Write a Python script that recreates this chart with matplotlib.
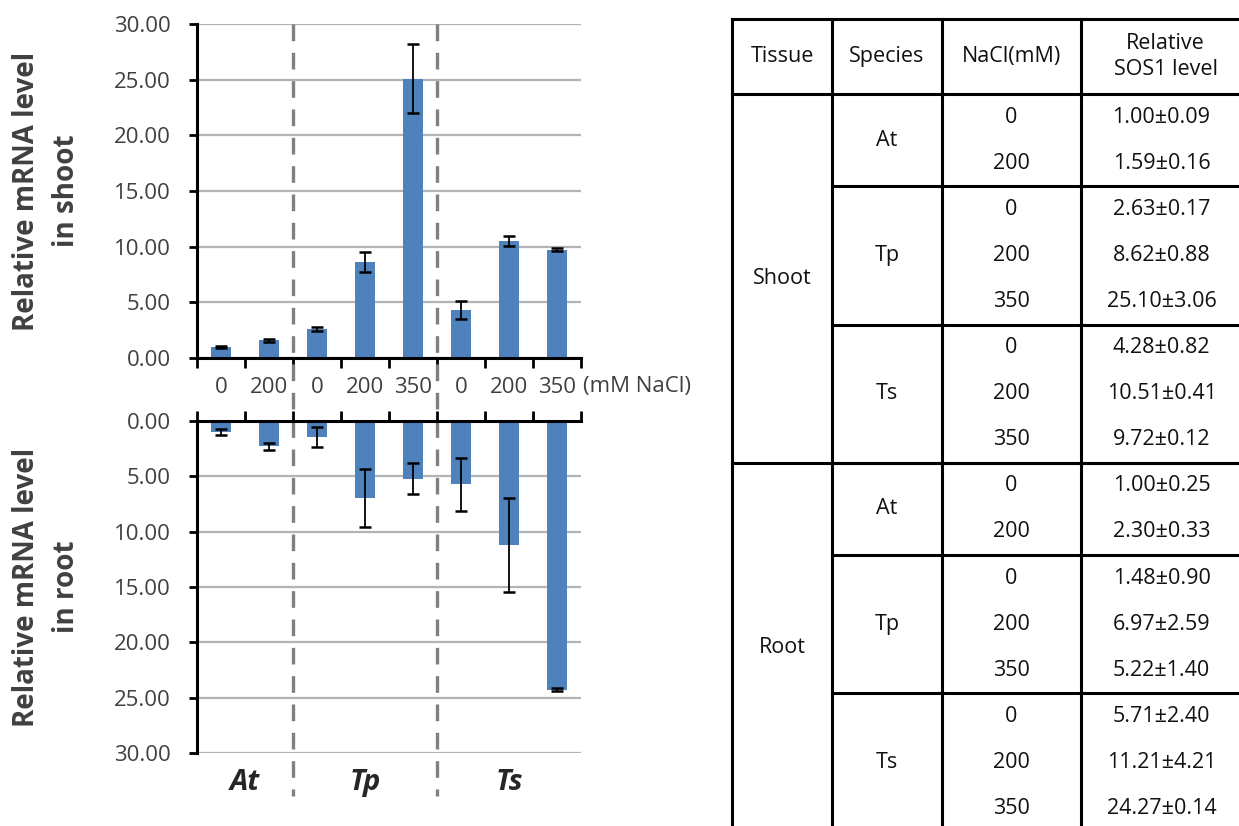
import numpy as np
import matplotlib
matplotlib.use('Agg')
import matplotlib.pyplot as plt
import matplotlib.ticker as mticker

plt.rcParams['font.family'] = ['Open Sans', 'DejaVu Sans']

# ------------------------------------------------------------------
# data
# ------------------------------------------------------------------
species = ['At', 'Tp', 'Ts']
nacl = {'At': ['0', '200'], 'Tp': ['0', '200', '350'], 'Ts': ['0', '200', '350']}
tick_labels = ['0', '200', '0', '200', '350', '0', '200', '350']

shoot_mean = [1.00, 1.59, 2.63, 8.62, 25.10, 4.28, 10.51, 9.72]
shoot_sd = [0.09, 0.16, 0.17, 0.88, 3.06, 0.82, 0.41, 0.12]
root_mean = [1.00, 2.30, 1.48, 6.97, 5.22, 5.71, 11.21, 24.27]
root_sd = [0.25, 0.33, 0.90, 2.59, 1.40, 2.40, 4.21, 0.14]

tissues = ['Shoot', 'Root']
header = ['Tissue', 'Species', 'NaCl(mM)', 'Relative\nSOS1 level']

BLUE = '#4F81BD'
GRID = '#b3b3b3'
TXT = '#404040'

W, H = 1239, 826
fig = plt.figure(figsize=(W / 100, H / 100), dpi=100)


def px_axes(l, t, r, b):
    return fig.add_axes([l / W, 1 - b / H, (r - l) / W, (b - t) / H])


x = np.arange(len(shoot_mean)) + 0.5
edges = np.arange(len(shoot_mean) + 1)

# --- shoot panel ---------------------------------------------------
ax1 = px_axes(197, 24, 581, 358)
ax1.bar(x, shoot_mean, width=0.42, color=BLUE, zorder=2)
ax1.errorbar(x, shoot_mean, yerr=shoot_sd, fmt='none', ecolor='black',
             elinewidth=1.3, capsize=4, capthick=1.8, zorder=3)
ax1.set_xlim(0, 8)
ax1.set_ylim(0, 30)

# --- root panel (inverted) -----------------------------------------
ax2 = px_axes(197, 421, 581, 753)
ax2.bar(x, root_mean, width=0.42, color=BLUE, zorder=2)
ax2.errorbar(x, root_mean, yerr=root_sd, fmt='none', ecolor='black',
             elinewidth=1.3, capsize=4, capthick=1.8, zorder=3)
ax2.set_xlim(0, 8)
ax2.set_ylim(30, 0)

for ax in (ax1, ax2):
    ax.patch.set_alpha(0)
    ax.set_yticks(np.arange(0, 31, 5))
    ax.yaxis.set_major_formatter(mticker.FormatStrFormatter('%.2f'))
    ax.grid(axis='y', color=GRID, linewidth=1.6, zorder=0)
    ax.set_axisbelow(True)
    ax.set_xticks(edges)
    ax.tick_params(axis='y', length=6, width=2, pad=13, labelsize=16,
                   labelcolor=TXT, direction='out')
    ax.spines['right'].set_visible(False)
    ax.spines['left'].set_linewidth(2.2)

ax1.spines['top'].set_visible(False)
ax1.spines['bottom'].set_linewidth(2.2)
ax1.tick_params(axis='x', which='major', length=7, width=2, labelbottom=False)
ax1.set_xticks(x, minor=True)
ax1.set_xticklabels(tick_labels, minor=True)
ax1.tick_params(axis='x', which='minor', length=0, pad=14, labelsize=16,
                labelcolor=TXT)
ax1.text(8.05, -2.6, '(mM NaCl)', fontsize=16, color=TXT, ha='left',
         va='center', clip_on=False)

ax2.spines['bottom'].set_visible(False)
ax2.spines['top'].set_linewidth(2.2)
ax2.tick_params(axis='x', which='major', length=7, width=2, top=True,
                bottom=False, labelbottom=False, labeltop=False)
grp_centers = [1, 3.5, 6.5]
for xc, sp in zip(grp_centers, species):
    ax2.text(xc, 32.7, sp, fontsize=21, fontweight='bold', style='italic',
             color='#262626', ha='center', va='center', clip_on=False)

# dashed separators between species, running through both panels
for xb in (2, 5):
    ax1.plot([xb, xb], [30, -39.3], color='#808080', linewidth=2.4,
             linestyle=(0, (5, 3.5)), clip_on=False, zorder=4)

# ------------------------------------------------------------------
# overlay: y labels and table
# ------------------------------------------------------------------
ov = fig.add_axes([0, 0, 1, 1])
ov.set_xlim(0, W)
ov.set_ylim(H, 0)
ov.axis('off')
ov.patch.set_alpha(0)

ov.text(47, 191, 'Relative mRNA level\nin shoot', rotation=90, fontsize=20,
        fontweight='bold', color=TXT, ha='center', va='center',
        linespacing=1.5, multialignment='center')
ov.text(47, 587, 'Relative mRNA level\nin root', rotation=90, fontsize=20,
        fontweight='bold', color=TXT, ha='center', va='center',
        linespacing=1.5, multialignment='center')

cols = [732, 832, 942, 1081, 1250]
top, hdr, rh = 19, 94, 46.1
lw = 2.2
TK = '#111111'
fs = 15.5

# header
for i, h in enumerate(header):
    ov.text((cols[i] + cols[i + 1]) / 2, (top + hdr) / 2, h, fontsize=fs,
            color=TK, ha='center', va='center', linespacing=1.35)
ov.plot([cols[0], cols[-1]], [top, top], color='black', lw=lw)
ov.plot([cols[0], cols[-1]], [hdr, hdr], color='black', lw=lw)

row = 0
means = [shoot_mean, root_mean]
sds = [shoot_sd, root_sd]
for ti, tissue in enumerate(tissues):
    t0 = row
    k = 0
    for sp in species:
        s0 = row
        for n in nacl[sp]:
            yc = hdr + rh * (row + 0.5)
            ov.text((cols[2] + cols[3]) / 2, yc, n, fontsize=fs, color=TK,
                    ha='center', va='center')
            ov.text((cols[3] + cols[4]) / 2 - 4, yc,
                    f'{means[ti][k]:.2f}\u00b1{sds[ti][k]:.2f}', fontsize=fs,
                    color=TK, ha='center', va='center')
            row += 1
            k += 1
        ov.text((cols[1] + cols[2]) / 2, hdr + rh * (s0 + row) / 2, sp,
                fontsize=fs, color=TK, ha='center', va='center')
        yb = hdr + rh * row
        ov.plot([cols[1], cols[-1]], [yb, yb], color='black', lw=lw)
    ov.text((cols[0] + cols[1]) / 2, hdr + rh * (t0 + row) / 2, tissue,
            fontsize=fs, color=TK, ha='center', va='center')
    yb = hdr + rh * row
    ov.plot([cols[0], cols[-1]], [yb, yb], color='black', lw=lw)

for cx in cols[:4]:
    ov.plot([cx, cx], [top, hdr + rh * row], color='black', lw=lw)

fig.savefig('out.png', dpi=100)
